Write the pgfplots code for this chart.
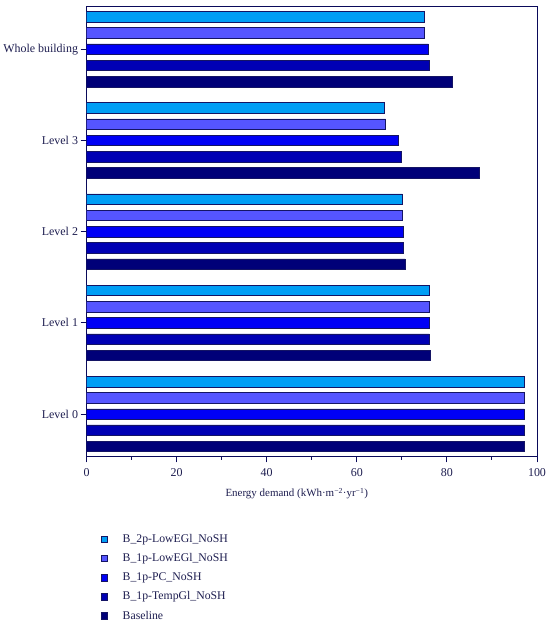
\documentclass[border=0pt]{standalone}
\usepackage{pgfplots}
\pgfplotsset{compat=1.18}
\usepackage{fontspec}
\setmainfont{Liberation Serif}
\definecolor{cA}{RGB}{0,158,245}
\definecolor{cB}{RGB}{85,85,255}
\definecolor{cC}{RGB}{0,0,245}
\definecolor{cD}{RGB}{0,0,180}
\definecolor{cE}{RGB}{0,0,120}
\definecolor{txt}{RGB}{30,30,80}
\definecolor{ax}{RGB}{10,10,90}
\definecolor{edge}{RGB}{20,20,100}
\begin{document}
\begin{tikzpicture}
\useasboundingbox (0,0) rectangle (550bp,626bp);
\begin{axis}[
  at={(86.5bp,169.5bp)}, anchor=south west,
  scale only axis, width=450.5bp, height=450.5bp,
  xbar, bar width=0.115,
  xmin=0, xmax=100, ymin=-0.466, ymax=4.474,
  xtick={0,20,40,60,80,100},
  minor xtick={10,30,50,70,90},
  ytick={0,1,2,3,4},
  yticklabels={Level 0,Level 1,Level 2,Level 3,Whole building},
  tick align=outside,
  xtick pos=bottom, ytick pos=left,
  major tick length=6bp, minor tick length=3.5bp,
  tick style={ax, line width=1pt},
  axis line style={ax, line width=0.9pt},
  /pgf/number format/assume math mode=true,
  ticklabel style={font=\fontsize{12}{14}\selectfont, text=txt},
  xticklabel style={yshift=-3bp},
  yticklabel style={xshift=1bp},
  xlabel={Energy demand (kWh·m\textsuperscript{−2}·yr\textsuperscript{−1})},
  xlabel style={font=\fontsize{11}{14}\selectfont, text=txt, yshift=-4bp, xshift=-15bp},
  legend cell align=left,
  legend style={at={(0.02,-0.168)}, anchor=north west, draw=none, fill=none,
    font=\fontsize{11.8}{14}\selectfont, text=txt, row sep=5.6bp, inner sep=0pt},
  legend image code/.code={\draw[#1] (5bp,-3.3bp) rectangle (11.5bp,3.3bp); \path (0bp,0bp) (24.5bp,0bp);},
]
\addplot[fill=cA, draw=edge, line width=0.5pt, bar shift=0.356] coordinates {(97.2,0) (76.0,1) (70.1,2) (66.0,3) (74.9,4)};
\addplot[fill=cB, draw=edge, line width=0.5pt, bar shift=0.178] coordinates {(97.2,0) (76.1,1) (70.1,2) (66.4,3) (75.0,4)};
\addplot[fill=cC, draw=edge, line width=0.5pt, bar shift=0] coordinates {(97.2,0) (76.1,1) (70.3,2) (69.2,3) (75.9,4)};
\addplot[fill=cD, draw=edge, line width=0.5pt, bar shift=-0.178] coordinates {(97.2,0) (76.1,1) (70.4,2) (69.8,3) (76.1,4)};
\addplot[fill=cE, draw=edge, line width=0.5pt, bar shift=-0.356] coordinates {(97.2,0) (76.3,1) (70.7,2) (87.2,3) (81.1,4)};
\legend{B\_2p-LowEGl\_NoSH, B\_1p-LowEGl\_NoSH, B\_1p-PC\_NoSH, B\_1p-TempGl\_NoSH, Baseline}
\end{axis}
\end{tikzpicture}
\end{document}
